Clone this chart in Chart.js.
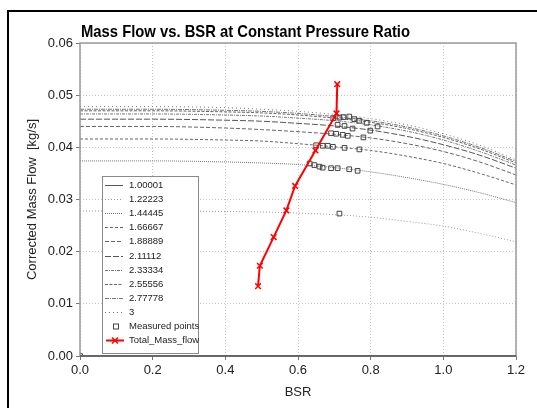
<!DOCTYPE html>
<html>
<head>
<meta charset="utf-8">
<script src="https://cdn.jsdelivr.net/npm/chart.js@4.4.0/dist/chart.umd.min.js"></script>
<style>
html,body{margin:0;padding:0;background:#fff;}
#wrap{position:relative;width:537px;height:408px;overflow:hidden;background:#fff;}
#frame{position:absolute;left:7px;top:10px;width:600px;height:500px;border:2px solid #000;box-sizing:border-box;}
canvas{position:absolute;left:0;top:0;}
</style>
</head>
<body>
<div id="wrap"><div id="frame"></div><canvas id="chart" width="537" height="408"></canvas></div>
<script>
// DATA

const titleText = 'Mass Flow vs. BSR at Constant Pressure Ratio'

const pressureRatios = ['1.00001','1.22223','1.44445','1.66667','1.88889','2.11112','2.33334','2.55556','2.77778','3']

const curveBsr = [0, 0.2, 0.4, 0.5, 0.6, 0.7, 0.8, 0.9, 1.0, 1.1, 1.2]

const flow100001 = [0, 0, 0, 0, 0, 0, 0, 0, 0, 0, 0]
const flow122223 = [.0278,.0278,.0277,.0276,.0274,.0271,.0266,.0258,.0249,.0235,.0219]
const flow144445 = [.0374,.0374,.0372,.0370,.0367,.0361,.0353,.0342,.0329,.0313,.0294]
const flow166667 = [.0416,.0416,.0414,.0412,.0407,.0401,.0394,.0383,.0369,.0350,.0328]
const flow188889 = [.0440,.0440,.0437,.0434,.0430,.0425,.0418,.0407,.0392,.0372,.0347]
const flow211112 = [.0454,.0454,.0452,.0450,.0446,.0441,.0433,.0421,.0405,.0385,.0360]
const flow233334 = [.0464,.0464,.0462,.0460,.0456,.0451,.0443,.0431,.0414,.0392,.0366]
const flow255556 = [.0470,.0470,.0468,.0466,.0462,.0456,.0448,.0436,.0419,.0397,.0370]
const flow277778 = [.0473,.0473,.0471,.0469,.0465,.0459,.0451,.0439,.0422,.0400,.0373]
const flow300000 = [.0478,.0478,.0476,.0473,.0469,.0463,.0455,.0443,.0426,.0404,.0376]

const curveFlows = [flow100001,flow122223,flow144445,flow166667,flow188889,flow211112,flow233334,flow255556,flow277778,flow300000]

const measuredBsr  = [0, .697,.714,.725,.741,.755,.769,.789,.819, .709,.728,.750,.799, .691,.705,.723,.737,.780, .650,.668,.682,.696,.728,.769, .632,.645,.659,.668,.691,.709,.741,.764, .714]
const measuredFlow = [0, .0456,.0457,.0458,.0459,.0454,.0451,.0447,.0440, .0443,.0441,.0436,.0432, .0427,.0426,.0424,.0422,.0419, .0404,.0403,.0403,.0401,.0399,.0396, .0369,.0366,.0363,.0361,.0360,.0360,.0358,.0355, .0273]

const totalBsr  = [.708,.706,.648,.592,.568,.533,.495,.490]
const totalFlow = [.0521,.0465,.0394,.0326,.0279,.0228,.0173,.0134]

const xTicks = [0, 0.2, 0.4, 0.6, 0.8, 1.0, 1.2]
const yTicks = [0, 0.01, 0.02, 0.03, 0.04, 0.05, 0.06]

// STYLES

const curveDash = [[], [1,2], [1,1], [3,2], [4,2], [6,2], [3,1,1,1], [3,1.5], [4,1,1,1], [1,3]]
const curveColor = ['#555','#999','#777','#666','#666','#555','#777','#666','#777','#777']

function pts(xs, ys){
let out = []
for(let i=0;i<xs.length;i++){
out.push({x:xs[i], y:ys[i]})
}
return out
}

let datasets = []

datasets.push({
label:'Total_Mass_flow',
data: pts(totalBsr,totalFlow),
showLine:true,
borderColor:'#ff0000',
backgroundColor:'#ff0000',
borderWidth:2,
pointStyle:'crossRot',
pointRadius:4,
pointBorderWidth:1.5,
order:0
})

datasets.push({
label:'Measured points',
data: pts(measuredBsr,measuredFlow),
showLine:false,
borderColor:'#444',
backgroundColor:'rgba(0,0,0,0)',
pointStyle:'rect',
pointRadius:3.3,
pointBorderWidth:1,
order:1
})

for(let i=0;i<pressureRatios.length;i++){
datasets.push({
label: pressureRatios[i],
data: pts(curveBsr, curveFlows[i]),
showLine:true,
borderColor: curveColor[i],
borderWidth:1,
borderDash: curveDash[i],
pointRadius:0,
cubicInterpolationMode:'monotone',
order:2
})
}

// TITLE, FRAME, LEGEND

const decor = {
id:'decor',
afterDraw(chart){
const ctx = chart.ctx
const a = chart.chartArea
ctx.save()

// plot frame
ctx.setLineDash([])
ctx.strokeStyle = '#9a9a9a'
ctx.lineWidth = 1.5
ctx.strokeRect(a.left, a.top, a.right-a.left, a.bottom-a.top)
ctx.strokeStyle = '#555'
ctx.beginPath()
ctx.moveTo(a.left, a.bottom)
ctx.lineTo(a.right, a.bottom)
ctx.stroke()

// title
ctx.font = 'bold 17px "Liberation Sans Narrow", "Liberation Sans", Arial, sans-serif'
let w = ctx.measureText(titleText).width
let sx = Math.min(1, 329/w)
ctx.save()
ctx.translate(81, 37)
ctx.scale(sx, 1)
ctx.fillStyle = '#000'
ctx.textBaseline = 'alphabetic'
ctx.textAlign = 'left'
ctx.fillText(titleText, 0, 0)
ctx.restore()

// legend
let lx = 102, ly = 176, lw = 96, lh = 177
ctx.fillStyle = '#fff'
ctx.fillRect(lx, ly, lw, lh)
ctx.strokeStyle = '#8a8a8a'
ctx.lineWidth = 1
ctx.strokeRect(lx+0.5, ly+0.5, lw, lh)

ctx.font = '9.5px "Liberation Sans", Arial, sans-serif'
ctx.textBaseline = 'middle'
ctx.textAlign = 'left'

let rowY = 185
let step = 14.1
for(let i=0;i<pressureRatios.length;i++){
let y = Math.round(rowY + i*step) + 0.5
ctx.setLineDash(curveDash[i])
ctx.strokeStyle = curveColor[i]
ctx.beginPath()
ctx.moveTo(105, y)
ctx.lineTo(123, y)
ctx.stroke()
ctx.setLineDash([])
ctx.fillStyle = '#222'
ctx.fillText(pressureRatios[i], 129, y)
}

// measured points
let ym = Math.round(rowY + 10*step) + 0.5
ctx.strokeStyle = '#444'
ctx.strokeRect(113.5, ym-2.5, 5, 5)
ctx.fillStyle = '#222'
ctx.fillText('Measured points', 129, ym)

// total mass flow
let yt = Math.round(rowY + 11*step) + 0.5
ctx.strokeStyle = '#ff0000'
ctx.lineWidth = 2
ctx.beginPath()
ctx.moveTo(106, yt)
ctx.lineTo(124, yt)
ctx.stroke()
ctx.lineWidth = 1.5
ctx.beginPath()
ctx.moveTo(112, yt-3); ctx.lineTo(118, yt+3)
ctx.moveTo(118, yt-3); ctx.lineTo(112, yt+3)
ctx.stroke()
ctx.fillStyle = '#222'
ctx.fillText('Total_Mass_flow', 129, yt)

ctx.restore()
}
}

// CHART

const ctx = document.getElementById('chart')

new Chart(ctx, {

type:'scatter',

data:{ datasets: datasets },

options:{
responsive:false,
animation:false,
events:[],
layout:{ padding:{ top:43, right:21, left:0, bottom:0 } },
plugins:{
legend:{display:false},
tooltip:{enabled:false},
title:{display:false}
},
scales:{
x:{
type:'linear',
min:0,
max:1.2,
afterBuildTicks(s){ s.ticks = xTicks.map(v => ({value:v})) },
afterFit(s){ s.height = 52 },
ticks:{
callback: v => v.toFixed(1),
color:'#222',
padding:3,
font:{ family:'"Liberation Sans", Arial, sans-serif', size:13 }
},
grid:{
color:'#c4c4c4',
lineWidth:1,
tickLength:4,
tickColor:'#777',
tickBorderDash:[]
},
border:{ display:false, dash:[1,2] },
title:{
display:true,
text:'BSR',
color:'#222',
padding:{ top:0, bottom:8 },
font:{ family:'"Liberation Sans", Arial, sans-serif', size:13 }
}
},
y:{
type:'linear',
min:0,
max:0.06,
afterBuildTicks(s){ s.ticks = yTicks.map(v => ({value:v})) },
afterFit(s){ s.width = 80 },
ticks:{
callback: v => v.toFixed(2),
color:'#222',
padding:3,
font:{ family:'"Liberation Sans", Arial, sans-serif', size:13 }
},
grid:{
color:'#c4c4c4',
lineWidth:1,
tickLength:4,
tickColor:'#777',
tickBorderDash:[]
},
border:{ display:false, dash:[1,2] },
title:{
display:true,
text:'Corrected Mass Flow  [kg/s]',
color:'#222',
padding:{ top:25, bottom:0 },
font:{ family:'"Liberation Sans", Arial, sans-serif', size:13 }
}
}
}
},

plugins:[decor]

})
</script>
</body>
</html>
